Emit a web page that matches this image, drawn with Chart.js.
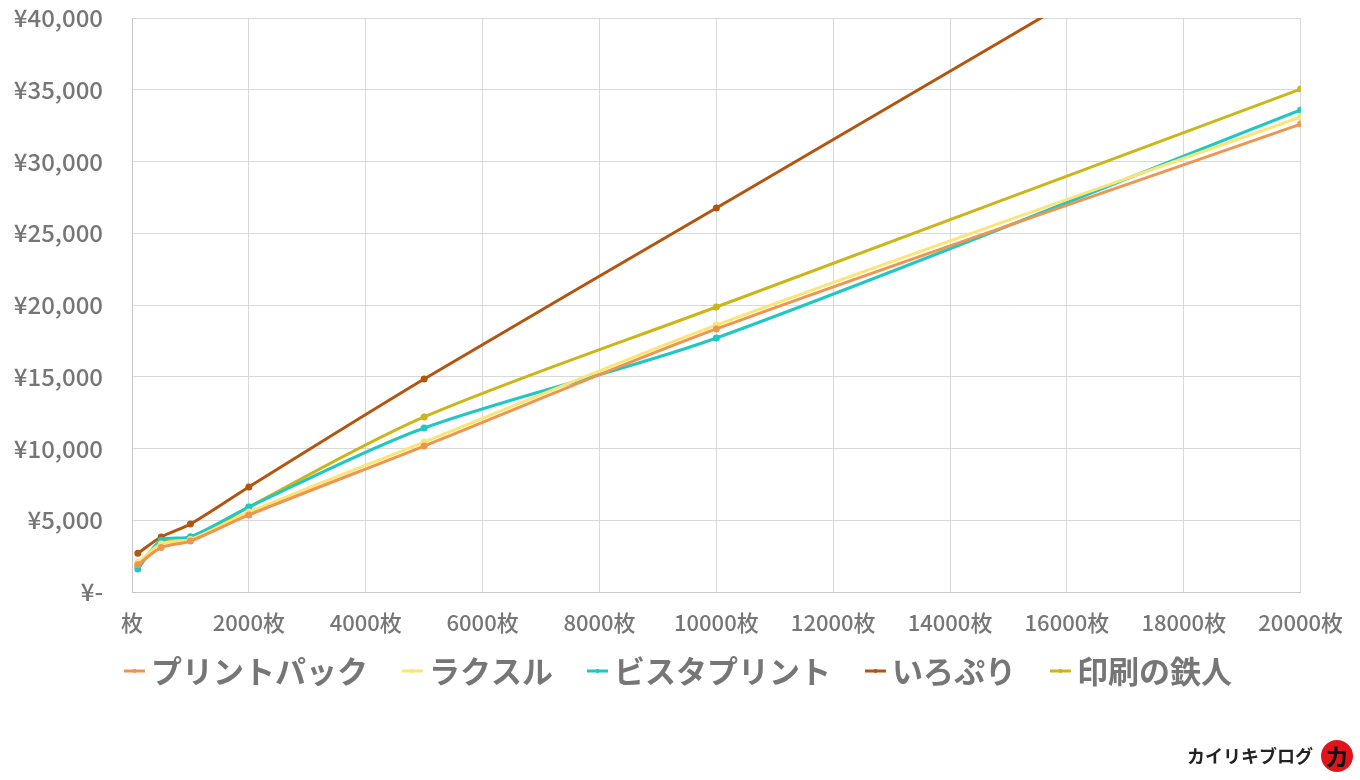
<!DOCTYPE html>
<html>
<head>
<meta charset="utf-8">
<script src="https://cdn.jsdelivr.net/npm/chart.js@4.4.1/dist/chart.umd.min.js"></script>
<style>
html,body{margin:0;padding:0;background:#fff;}
#wrap{position:relative;width:1360px;height:780px;}
canvas{display:block;}
</style>
</head>
<body>
<div id="wrap"><canvas id="c" width="1360" height="780"></canvas></div>
<script>
const quantities = [100, 500, 1000, 2000, 5000, 10000, 20000];
const seriesNames = ['プリントパック', 'ラクスル', 'ビスタプリント', 'いろぷり', '印刷の鉄人'];
const printpack = [1900, 3100, 3550, 5370, 10170, 18330, 32610];
const raksul    = [2050, 3350, 3650, 5570, 10450, 18600, 33100];
const vista     = [1600, 3600, 3850, 5920, 11430, 17700, 33590];
const iropuri   = [2700, 3830, 4740, 7320, 14840, 26760, 50600];
const tetsujin  = [1850, 3450, 3600, 5920, 12200, 19860, 35050];
const seriesColors = ['#EE9550', '#FBE574', '#1FC8C4', '#B3540F', '#CBB517'];
const xTicks = [0, 2000, 4000, 6000, 8000, 10000, 12000, 14000, 16000, 18000, 20000];
const yTicks = [0, 5000, 10000, 15000, 20000, 25000, 30000, 35000, 40000];

const allValues = [printpack, raksul, vista, iropuri, tetsujin];
const datasets = seriesNames.map((name, i) => ({
  label: name,
  data: quantities.map((q, j) => ({x: q, y: allValues[i][j]})),
  borderColor: seriesColors[i],
  backgroundColor: seriesColors[i],
  pointBackgroundColor: seriesColors[i],
  pointBorderColor: seriesColors[i],
  borderWidth: 3,
  pointRadius: 2,
  tension: 0.3,
  fill: false
}));
const FONT = '"Noto Sans CJK JP", "Noto Sans", sans-serif';

const bottomLegend = {
  id: 'bottomLegend',
  afterDraw(chart) {
    const ctx = chart.ctx;
    ctx.save();
    ctx.font = 'bold 31px ' + FONT;
    ctx.textBaseline = 'middle';
    ctx.textAlign = 'left';
    let x = 124;
    const y = 671;
    chart.data.datasets.forEach(ds => {
      ctx.fillStyle = ds.borderColor;
      ctx.fillRect(x, y - 1.5, 21, 3);
      ctx.beginPath();
      ctx.arc(x + 10.5, y, 2, 0, Math.PI * 2);
      ctx.fill();
      x += 27;
      ctx.fillStyle = '#767676';
      ctx.fillText(ds.label, x, y);
      x += ctx.measureText(ds.label).width + 34;
    });
    ctx.restore();
  }
};

const watermark = {
  id: 'watermark',
  afterDraw(chart) {
    const ctx = chart.ctx;
    ctx.save();
    ctx.fillStyle = '#222';
    ctx.font = 'bold 18px ' + FONT;
    ctx.textAlign = 'right';
    ctx.textBaseline = 'middle';
    ctx.fillText('カイリキブログ', 1313, 756);
    ctx.beginPath();
    ctx.arc(1337, 756, 16, 0, Math.PI * 2);
    ctx.fillStyle = '#E0141B';
    ctx.fill();
    ctx.fillStyle = '#111';
    ctx.font = 'bold 24px ' + FONT;
    ctx.textAlign = 'center';
    ctx.fillText('カ', 1337, 757);
    ctx.restore();
  }
};

new Chart(document.getElementById('c'), {
  type: 'line',
  data: {datasets},
  options: {
    responsive: false,
    animation: false,
    layout: {padding: {top: 18, right: 54.6, left: 0, bottom: 138}},
    plugins: {
      legend: {display: false},
      tooltip: {enabled: false}
    },
    scales: {
      x: {
        type: 'linear',
        min: 0,
        max: 20000,
        afterBuildTicks(scale) { scale.ticks = xTicks.map(v => ({value: v})); },
        afterFit(scale) { scale.height = 50; },
        grid: {color: '#D9D9D9', lineWidth: 1, drawTicks: false},
        border: {color: '#C8C8C8'},
        ticks: {
          color: '#767676',
          padding: 17,
          maxRotation: 0,
          font: {family: FONT, size: 22, weight: '500'},
          callback: v => (v === 0 ? '' : v) + '枚'
        }
      },
      y: {
        min: 0,
        max: 40000,
        afterBuildTicks(scale) { scale.ticks = yTicks.map(v => ({value: v})); },
        afterFit(scale) { scale.width = 132; },
        grid: {color: '#D9D9D9', lineWidth: 1, drawTicks: true, tickLength: 29, tickColor: 'rgba(0,0,0,0)'},
        border: {color: '#C8C8C8'},
        ticks: {
          color: '#767676',
          padding: 0,
          font: {family: FONT, size: 24, weight: '500'},
          callback: v => v === 0 ? '¥-' : '¥' + v.toLocaleString('en-US')
        }
      }
    }
  },
  plugins: [bottomLegend, watermark]
});
</script>
</body>
</html>
